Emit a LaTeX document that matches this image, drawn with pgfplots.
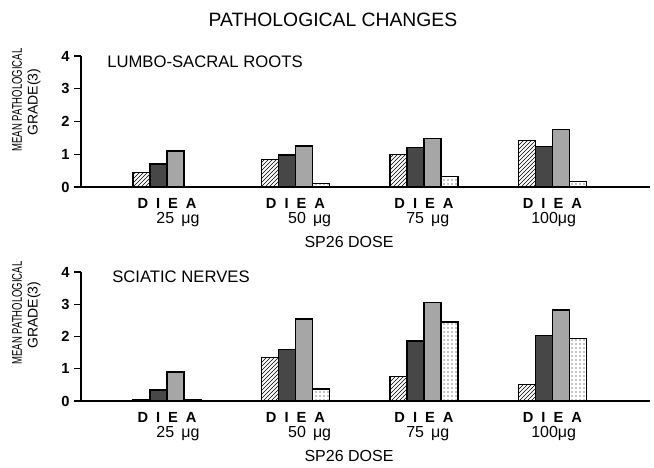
\documentclass[border=0pt]{standalone}
\usepackage{graphicx}
\usepackage{pgfplots}
\pgfplotsset{compat=1.18}
\usepackage{pgfplotstable}
\usepackage{fontspec}
\setmainfont{Liberation Sans}
\usetikzlibrary{patterns}

\pgfplotstableread{
x D I E A
1 0.45 0.70 1.10 0.00
2 0.85 0.98 1.25 0.10
3 1.00 1.20 1.47 0.32
4 1.42 1.23 1.75 0.17
}\lumbo

\pgfplotstableread{
x D I E A
1 0.05 0.34 0.90 0.05
2 1.36 1.60 2.54 0.37
3 0.75 1.86 3.05 2.45
4 0.50 2.02 2.82 1.95
}\sciatic

\pgfplotsset{
  panel/.style={
    scale only axis, width=426.75pt, anchor=south west,
    xmin=0.33, xmax=4.76, ymin=0, ymax=4,
    axis x line=bottom, axis y line=left,
    axis line style={-, line width=0.8pt},
    ytick={0,1,2,3,4}, tick align=outside,
    major tick length=5pt,
    /pgf/number format/assume math mode=true,
    every tick/.style={line width=0.8pt, black},
    yticklabel style={font=\bfseries\fontsize{11}{13}\selectfont},
    xtick={1,2,3,4},
    major x tick style={draw=none},
    xticklabels={{D\hspace{6pt}I\hspace{6pt}E\hspace{6pt}A},{D\hspace{6pt}I\hspace{6pt}E\hspace{6pt}A},{D\hspace{6pt}I\hspace{6pt}E\hspace{6pt}A},{D\hspace{6pt}I\hspace{6pt}E\hspace{6pt}A}},
    xticklabel style={anchor=base, yshift=-11pt, font=\bfseries\fontsize{11}{13}\selectfont},
    ybar, bar width=0.1325, clip=false,
  },
  barD/.style={draw=black, line width=0.9pt, pattern=north east lines, bar shift=-0.19875},
  barI/.style={draw=black, line width=0.9pt, fill=black!72, bar shift=-0.06625},
  barE/.style={draw=black, line width=0.9pt, fill=black!35, bar shift=0.06625},
  barA/.style={draw=black, line width=0.9pt, pattern=dots, bar shift=0.19875},
}
\newcommand{\dose}[2]{\node[anchor=base, yshift=-27.5pt, inner sep=1pt, font=\fontsize{12}{14}\selectfont] at (axis cs:#1,0) {#2};}

\begin{document}
\begin{tikzpicture}
\path[use as bounding box] (0pt,0pt) rectangle (490.5pt,-351pt);

\node[font=\fontsize{14.5}{17}\selectfont] at (249.75pt,-15pt) {PATHOLOGICAL CHANGES};

% top panel
\begin{axis}[panel, height=98.25pt, at={(60.75pt,-140.25pt)}]
\addplot[barD] table[x=x,y=D]{\lumbo};
\addplot[barI] table[x=x,y=I]{\lumbo};
\addplot[barE] table[x=x,y=E]{\lumbo};
\addplot[barA] table[x=x,y=A]{\lumbo};
\dose{1.085}{25\hspace{2pt} μg}
\dose{2.11}{50\hspace{2pt} μg}
\dose{3.03}{75\hspace{2pt} μg}
\dose{4.01}{100μg}
\end{axis}
\node[anchor=west, inner sep=0pt, font=\fontsize{12.5}{15}\selectfont] at (80.25pt,-46.5pt) {LUMBO-SACRAL ROOTS};
\node[font=\fontsize{12}{14}\selectfont] at (261.75pt,-181.5pt) {SP26 DOSE};
\node[rotate=90, font=\fontsize{10.5}{12}\selectfont] at (12.75pt,-75pt) {\scalebox{0.68}[1]{MEAN PATHOLOGICAL}};
\node[rotate=90, font=\fontsize{10.5}{12}\selectfont] at (25.5pt,-76.5pt) {GRADE(3)};

% bottom panel
\begin{axis}[panel, height=96.75pt, at={(60.75pt,-300.75pt)}]
\addplot[barD] table[x=x,y=D]{\sciatic};
\addplot[barI] table[x=x,y=I]{\sciatic};
\addplot[barE] table[x=x,y=E]{\sciatic};
\addplot[barA] table[x=x,y=A]{\sciatic};
\dose{1.085}{25\hspace{2pt} μg}
\dose{2.11}{50\hspace{2pt} μg}
\dose{3.03}{75\hspace{2pt} μg}
\dose{4.01}{100μg}
\end{axis}
\node[anchor=west, inner sep=0pt, font=\fontsize{12.5}{15}\selectfont] at (84pt,-207.75pt) {SCIATIC NERVES};
\node[font=\fontsize{12}{14}\selectfont] at (261.75pt,-342pt) {SP26 DOSE};
\node[rotate=90, font=\fontsize{10.5}{12}\selectfont] at (12.75pt,-234.75pt) {\scalebox{0.68}[1]{MEAN PATHOLOGICAL}};
\node[rotate=90, font=\fontsize{10.5}{12}\selectfont] at (25.5pt,-236.25pt) {GRADE(3)};
\end{tikzpicture}
\end{document}
